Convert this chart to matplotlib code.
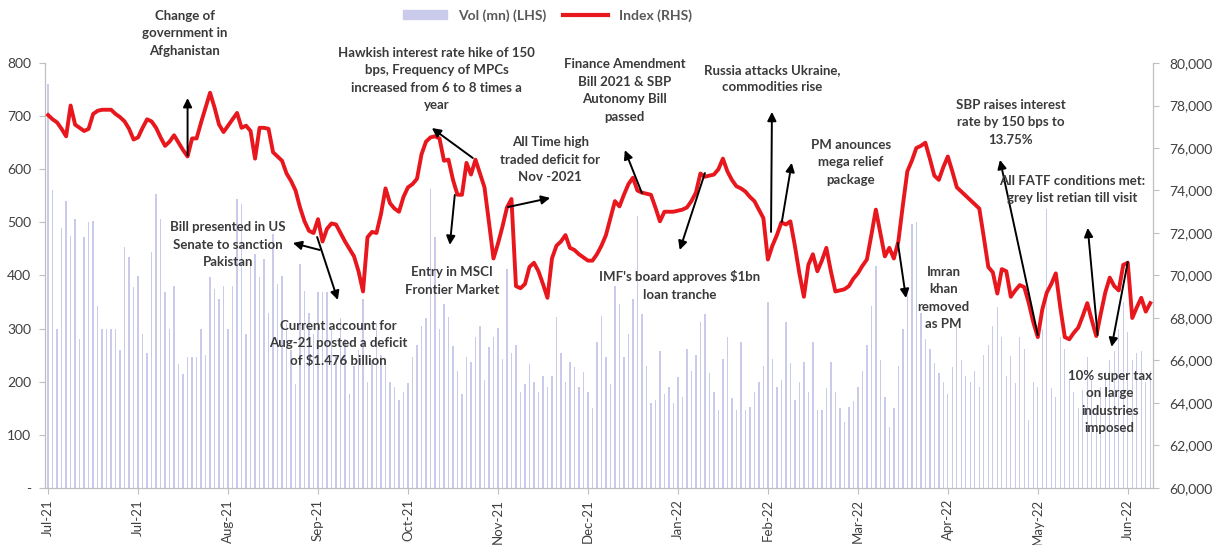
import matplotlib
matplotlib.use('Agg')
import matplotlib.pyplot as plt
from matplotlib.ticker import FuncFormatter, MultipleLocator
from matplotlib.patches import Patch
from matplotlib.lines import Line2D

plt.rcParams['font.family'] = ['Lato', 'DejaVu Sans']

# daily KSE-100 index level (RHS)
index_level = [
    77550, 77350, 77200, 76900, 76550, 78000, 77100, 76950, 76800, 76900,
    77600, 77750, 77800, 77800, 77800, 77600, 77450, 77250, 76900, 76400,
    76500, 76950, 77350, 77250, 76950, 76500, 76100, 76300, 76600, 76250,
    75900, 75600, 76450, 76450, 77200, 77900, 78600, 77900, 77100, 76750,
    77050, 77350, 77650, 76950, 77050, 76800, 75500, 76950, 76950, 76900,
    75800, 75600, 75400, 74800, 74450, 74000, 73200, 72550, 72100, 72000,
    72650, 71600, 72200, 72450, 72400, 72000, 71600, 71250, 70900, 70200,
    69250, 71800, 72050, 72000, 72900, 74100, 73400, 73150, 73000, 73700,
    74150, 74300, 74550, 75700, 76300, 76500, 76550, 76450, 75400, 75450,
    74500, 73800, 73800, 75300, 74750, 75450, 74800, 74150, 72500, 70800,
    71500, 72300, 73200, 73600, 69500, 69400, 69600, 70400, 70600, 70200,
    69600, 68950, 70800, 71400, 71600, 71900, 71300, 71200, 71000, 70850,
    70700, 70700, 71000, 71400, 71900, 72700, 73500, 73250, 73800, 74300,
    74600, 74000, 73900, 73850, 73800, 73200, 72550, 73000, 73000, 73000,
    73050, 73100, 73200, 73500, 73900, 74800, 74650, 74700, 74750, 75000,
    75500, 74900, 74500, 74200, 74100, 73950, 73700, 73500, 73100, 72700,
    70750, 71400, 71900, 72500, 72400, 72550, 71400, 70100, 69000, 70500,
    71000, 70200, 70700, 71300, 70200, 69250, 69300, 69350, 69500, 69850,
    70100, 70450, 70750, 71900, 73100, 72000, 70900, 71300, 70800, 71600,
    73300, 74900, 75400, 76000, 76100, 76250, 75500, 74700, 74500, 75100,
    75600, 74900, 74150, 73950, 73750, 73550, 73350, 73150, 71800, 70400,
    70150, 69150, 70300, 70200, 69000, 69300, 69550, 69450, 68700, 67800,
    67100, 68400, 69200, 69600, 70100, 68500, 67100, 67000, 67300, 67550,
    68100, 68700, 67900, 67150, 68200, 69200, 69900, 69500, 69300, 70500,
    70600, 68000, 68500, 68950, 68300, 68700,
]

# daily traded volume in mn shares (LHS)
volume = [
    760, 560, 300, 490, 540, 474, 506, 280, 472, 500,
    503, 342, 300, 300, 300, 300, 260, 454, 435, 378,
    399, 290, 255, 444, 554, 506, 368, 300, 380, 233,
    214, 246, 246, 246, 299, 250, 397, 374, 355, 380,
    300, 380, 544, 535, 290, 421, 440, 397, 431, 330,
    478, 384, 399, 310, 260, 195, 421, 370, 330, 290,
    368, 368, 368, 300, 250, 320, 280, 176, 230, 260,
    355, 200, 240, 310, 250, 230, 200, 190, 166, 181,
    198, 246, 270, 305, 320, 563, 472, 300, 346, 321,
    267, 220, 176, 246, 238, 284, 305, 204, 265, 285,
    302, 242, 412, 255, 270, 181, 195, 233, 200, 180,
    210, 190, 210, 321, 255, 200, 238, 227, 190, 219,
    180, 151, 274, 323, 246, 195, 380, 346, 246, 290,
    355, 512, 327, 230, 160, 166, 257, 176, 190, 160,
    208, 172, 261, 220, 251, 312, 327, 217, 180, 147,
    242, 285, 170, 147, 274, 147, 153, 180, 200, 229,
    350, 242, 190, 204, 312, 236, 166, 200, 238, 180,
    274, 147, 147, 189, 238, 180, 150, 125, 153, 163,
    190, 220, 270, 342, 418, 240, 172, 115, 150, 229,
    300, 368, 497, 500, 330, 280, 261, 236, 217, 200,
    176, 227, 308, 240, 210, 200, 220, 191, 250, 270,
    305, 340, 284, 210, 248, 198, 284, 261, 128, 200,
    191, 300, 525, 189, 172, 285, 261, 204, 180, 151,
    185, 246, 204, 147, 190, 219, 240, 257, 300, 350,
    293, 240, 255, 257, 200, 220,
]

tick_labels = ['Jul-21', 'Jul-21', 'Aug-21', 'Sep-21', 'Oct-21', 'Nov-21', 'Dec-21',
               'Jan-22', 'Feb-22', 'Mar-22', 'Apr-22', 'May-22', 'Jun-22']
tick_step = 20

# event notes: text, text position, list of (tail, head) arrows
events = [
    ("Change of\ngovernment in\nAfghanistan", (30.4, 81400), [((31, 75650), (31, 78350))]),
    ("Hawkish interest rate hike of 150\nbps, Frequency of MPCs\nincreased from 6 to 8 times a\nyear",
     (86.4, 79250), [((94.4, 75530), (85.3, 76940))]),
    ("Entry in MSCI\nFrontier Market", (89.8, 69740), [((90.4, 73790), (89.3, 71440))]),
    ("All Time high\ntraded deficit for\nNov -2021", (111.6, 75440), [((102.2, 73220), (111.6, 73650))]),
    ("Finance Amendment\nBill 2021 & SBP\nAutonomy Bill\npassed", (128.2, 78700),
     [((132, 73880), (128.2, 75900))]),
    ("IMF's board approves $1bn\nloan tranche", (140.4, 69530), [((146, 74820), (140.4, 71200))]),
    ("Russia attacks Ukraine,\ncommodities rise", (160.9, 79270),
     [((160.7, 72050), (160.9, 77700)), ((163.1, 72520), (165.3, 75300))]),
    ("PM anounces\nmega relief\npackage", (178.4, 75340), []),
    ("Imran\nkhan\nremoved\nas PM", (199.1, 68940), [((188.9, 71530), (190.7, 68940))]),
    ("SBP raises interest\nrate by 150 bps to\n13.75%", (214, 77220), [((220, 67200), (211.6, 75440))]),
    ("All FATF conditions met:\ngrey list retian till visit", (227.6, 74050),
     [((233.3, 67200), (231.1, 72240))]),
    ("10% super tax\non large\nindustries\nimposed", (236, 64050), [((240, 70640), (236.4, 66640))]),
    ("Bill presented in US\nSenate to sanction\nPakistan", (40, 71440), [((60.4, 71200), (54.4, 71530))]),
    ("Current account for\nAug-21 posted a deficit\nof $1.476 billion", (64.4, 66820),
     [((59.8, 71810), (64.4, 68850))]),
]

bar_color = '#cacaea'
line_color = '#e8161d'
text_color = '#3a3a3a'
axis_grey = '#bfbfbf'

fig = plt.figure(figsize=(12.22, 5.45), dpi=100)
ax = fig.add_axes([0.0368, 0.1046, 0.9067, 0.7798])
x = list(range(len(index_level)))

ax.bar(x, volume, width=0.3, color=bar_color, zorder=1)
ax.set_ylim(0, 800)
ax.set_xlim(-0.7, len(x) - 0.4)
ax.yaxis.set_major_locator(MultipleLocator(100))
ax.yaxis.set_major_formatter(FuncFormatter(lambda v, p: '-' if v == 0 else f'{v:.0f}'))

ax2 = ax.twinx()
ax2.plot(x, index_level, color=line_color, lw=2.8, solid_joinstyle='round', zorder=3)
ax2.set_ylim(60000, 80000)
ax2.yaxis.set_major_locator(MultipleLocator(2000))
ax2.yaxis.set_major_formatter(FuncFormatter(lambda v, p: f'{v:,.0f}'))

ax.set_xticks(range(0, len(tick_labels) * tick_step, tick_step))
ax.set_xticklabels(tick_labels, rotation=90)

for a in (ax, ax2):
    a.spines['top'].set_visible(False)
    for s in ('left', 'right', 'bottom'):
        a.spines[s].set_color(axis_grey)
    a.tick_params(colors=axis_grey, labelcolor='#404040', labelsize=10, length=4)
ax.tick_params(axis='x', labelsize=9.5, pad=4)
ax.tick_params(axis='y', pad=6)
ax2.tick_params(axis='y', pad=8)

for text, pos, arrows in events:
    ax2.text(pos[0], pos[1], text, ha='center', va='center', fontsize=9.5,
             fontweight='bold', color=text_color, linespacing=1.55, zorder=5, clip_on=False)
    for tail, head in arrows:
        ax2.annotate('', xy=head, xytext=tail, annotation_clip=False,
                     arrowprops=dict(arrowstyle='-|>', color='black', lw=1.4,
                                     mutation_scale=13, shrinkA=0, shrinkB=0))

handles = [Patch(color=bar_color, label='Vol (mn) (LHS)'),
           Line2D([], [], color=line_color, lw=3, label='Index (RHS)')]
leg = fig.legend(handles=handles, loc='center', bbox_to_anchor=(0.448, 0.972), ncol=2,
                 frameon=False, fontsize=10, handlelength=3.2, handleheight=0.6,
                 columnspacing=1.2)
for t in leg.get_texts():
    t.set_color('#595959')
    t.set_fontweight('bold')

fig.savefig('out.png', dpi=100)
